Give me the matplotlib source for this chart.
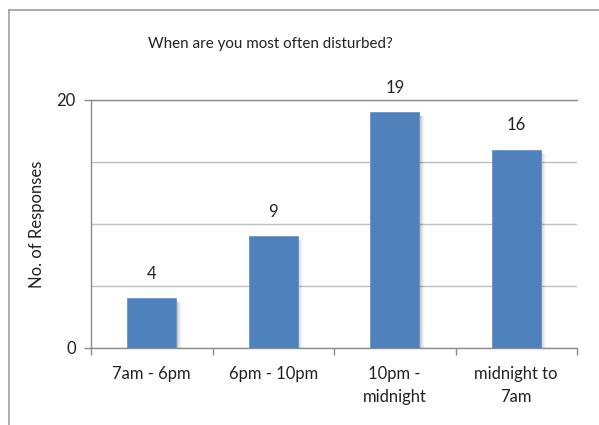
import matplotlib
matplotlib.use("Agg")
import matplotlib.pyplot as plt
from matplotlib.patches import Rectangle
import numpy as np

plt.rcParams['font.family'] = ['Lato', 'DejaVu Sans']

categories = ["7am - 6pm", "6pm - 10pm", "10pm -\nmidnight", "midnight to\n7am"]
responses = [4, 9, 19, 16]
title = "When are you most often disturbed?"
ylabel = "No. of Responses"

bar_color = "#4F81BD"
grid_color = "#C0C0C0"
axis_color = "#8C8C8C"
text_color = "#222222"

fig = plt.figure(figsize=(5.99, 4.25), dpi=100)
fig.patch.set_facecolor("white")

# chart frame (top and left edges visible)
fig.add_artist(plt.Line2D([9/599, 9/599], [0, 1 - 10/425], color="#A0A0A0", lw=1.2))
fig.add_artist(plt.Line2D([9/599, 1], [1 - 10/425, 1 - 10/425], color="#A0A0A0", lw=1.2))

left, right, top, bottom = 91, 577, 100, 348
ax = fig.add_axes([left/599, 1 - bottom/425, (right-left)/599, (bottom-top)/425])

x = np.arange(len(categories))
width = 0.40

# soft drop shadow to the right of each bar
for i, v in enumerate(responses):
    for k, a in enumerate([0.10, 0.08, 0.06, 0.04, 0.03, 0.02]):
        off = 0.008 + k * 0.008
        ax.add_patch(Rectangle((x[i] - width/2 + off, 0), width, v - 0.12 - k*0.05,
                               facecolor="black", alpha=a, lw=0, zorder=2))

ax.bar(x, responses, width=width, color=bar_color, edgecolor="#6A95CA",
       linewidth=0.6, zorder=3)

for i, v in enumerate(responses):
    ax.annotate(str(v), (x[i], v), xytext=(0, 12), textcoords="offset points",
                ha="center", va="bottom", fontsize=12, color=text_color)

ax.set_xlim(-0.5, len(categories) - 0.5)
ax.set_ylim(0, 20)
ax.set_yticks([0, 20])
ax.set_yticks([5, 10, 15], minor=True)
ax.yaxis.grid(True, which="both", color=grid_color, lw=1.0, zorder=0)
ax.set_axisbelow(True)

ax.set_xticks(np.arange(-0.5, len(categories), 1.0))
ax.set_xticklabels([])
ax.set_xticks(x, minor=True)
ax.set_xticklabels(categories, minor=True, fontsize=12, color=text_color,
                   linespacing=1.55)
ax.tick_params(axis="x", which="major", length=5, color=axis_color, width=1)
ax.tick_params(axis="x", which="minor", length=0, pad=13)
ax.tick_params(axis="y", which="major", length=5, color=axis_color, width=1,
               labelsize=12, labelcolor=text_color, pad=6)
ax.tick_params(axis="y", which="minor", length=0)

ax.spines["right"].set_visible(False)
for s in ["top", "left", "bottom"]:
    ax.spines[s].set_color(axis_color)
    ax.spines[s].set_linewidth(1.0)

ax.set_ylabel(ylabel, fontsize=12, color=text_color, labelpad=8)
fig.text(270/599, 1 - 44/425, title, ha="center", va="center",
         fontsize=10.9, color=text_color)

fig.savefig("out.png", dpi=100, facecolor="white")
